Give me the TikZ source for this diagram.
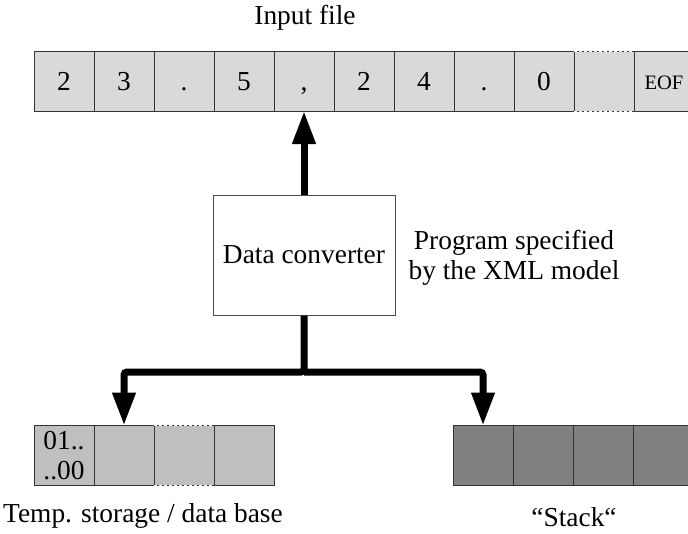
\documentclass[tikz,border=0pt]{standalone}
\usepackage{fontspec}
\setmainfont{Liberation Serif}
\usetikzlibrary{arrows.meta,positioning}

\tikzset{
  txt/.style={font=\fontsize{27.4}{30}\selectfont, inner sep=0pt},
  cell/.style={txt, draw=black!80, line width=1pt, minimum width=60pt, minimum height=60pt, outer sep=0pt},
  incell/.style={cell, fill=black!15, text height=18pt, text depth=0pt},
  dbcell/.style={cell, fill=black!25},
  stcell/.style={cell, fill=black!50},
  flow/.style={line width=7pt, -{Triangle[length=33pt,width=22pt]}},
  gap/.style={white, line width=1pt, dash pattern=on 3pt off 2pt}
}

\begin{document}
\begin{tikzpicture}[x=1pt,y=-1pt]
	\useasboundingbox (0,0) rectangle (688,533);

	% input file
	\node[txt] (title) at (305,18) {Input file};
	\foreach \t [count=\i from 0] in {2,3,.,5,{,},2,4,.,0,{}}
		\node[incell] (in\i) at (64+60*\i,81) {\t};
	\node[incell,font=\fontsize{20.5}{24}\selectfont,text height=17pt] (in10) at (664,81) {EOF};
	\draw[gap] (in9.north west) -- (in9.north east);
	\draw[gap] (in9.south west) -- (in9.south east);

	% converter
	\node[txt, draw=black!70, line width=1pt, minimum width=182pt, minimum height=120pt] (conv) at (304,255) {Data converter};
	\node[txt, align=center] (prog) at (514,258) {Program specified\\by the XML model};

	% temp. storage
	\node[dbcell, align=center] (db0) at (64,455.5) {01..\\..00};
	\foreach \i in {1,2,3}
		\node[dbcell] (db\i) at (64+60*\i,455.5) {};
	\draw[gap] (db2.north west) -- (db2.north east);
	\draw[gap] (db2.south west) -- (db2.south east);
	\node[txt] (dblabel) at (143,516) {Temp. storage / data base};

	% stack
	\foreach \i in {0,...,3}
		\node[stcell] (st\i) at (483+60*\i,455.5) {};
	\node[txt] (stlabel) at (574,517) {“Stack“};

	% arrows
	\coordinate (fork) at (304,372);
	\draw[flow] (conv.north) -- (in4.south);
	\draw[flow, rounded corners=3pt] (conv.south) -- (fork) -| (db1.north);
	\draw[flow, rounded corners=3pt] (fork) -| (st0.north);

\end{tikzpicture}
\end{document}
